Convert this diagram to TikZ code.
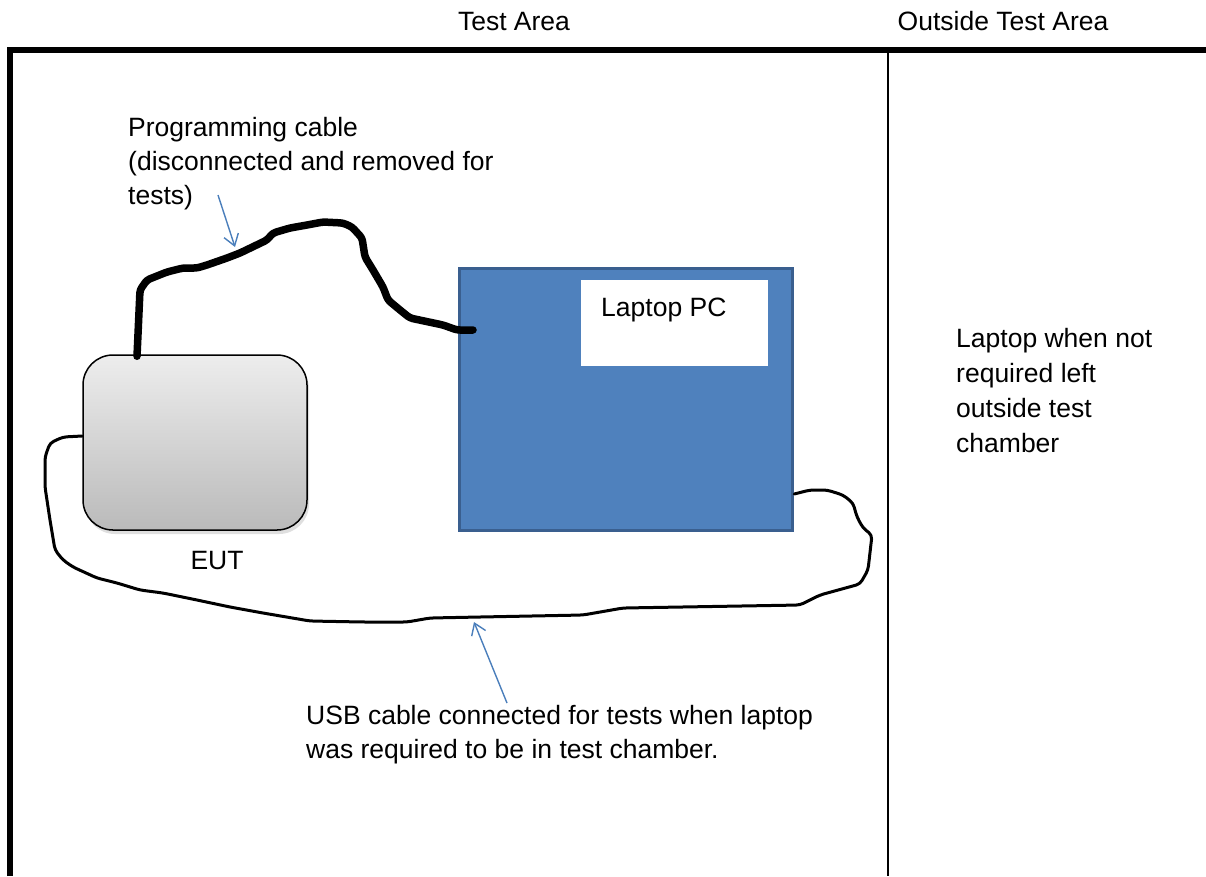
\documentclass[tikz,border=0pt]{standalone}
\usepackage{fontspec}
\setmainfont{Liberation Sans}
\usetikzlibrary{shadows,arrows.meta}
\definecolor{pcblue}{HTML}{4F81BD}
\definecolor{pcedge}{HTML}{3A5F8F}
\definecolor{arrowblue}{HTML}{4A7EBB}
\tikzset{
  lbl/.style={inner sep=0pt, font=\fontsize{26.5}{34}\selectfont},
  mlbl/.style={lbl, align=left, anchor=north west},
  eutbox/.style={draw=black, line width=1.5pt, rounded corners=30pt,
    minimum width=224pt, minimum height=175pt, top color=black!7, bottom color=black!27,
    drop shadow={opacity=0.25, shadow xshift=2pt, shadow yshift=-4pt}},
  laptop/.style={fill=pcblue, draw=pcedge, line width=3.5pt, minimum width=333pt, minimum height=262pt, inner sep=0pt},
  screen/.style={fill=white, minimum width=187pt, minimum height=86pt, inner sep=0pt},
  progcable/.style={line width=7.5pt, line join=round, line cap=round, rounded corners=3pt},
  usbcable/.style={line width=3pt, line join=round, line cap=round, rounded corners=4pt},
  callout/.style={draw=arrowblue, line width=1.4pt, -{Straight Barb[length=11pt,width=15pt]}},
  frame/.style={line width=6pt},
  divider/.style={line width=1.5pt}
}
\begin{document}
\begin{tikzpicture}[x=1pt,y=-1pt]
\useasboundingbox (0,0) rectangle (1206,876);
% frame
\coordinate (fbl) at (10,876);
\coordinate (ftl) at (10,50);
\coordinate (ftr) at (1206,50);
\coordinate (dtop) at (888,50);
\coordinate (dbot) at (888,876);
\draw[frame] (fbl) -- (ftl) -- (ftr);
\draw[divider] (dtop) -- (dbot);
% headings
\node[lbl, anchor=base] (hta) at (514,30.5) {Test Area};
\node[lbl, anchor=base] (hout) at (1003,30.5) {Outside Test Area};
% EUT
\node[eutbox] (eut) at (195,442.5) {};
\node[lbl, anchor=base] (eutl) at (217,569.5) {EUT};
% Laptop
\node[laptop] (pc) at (626,399.5) {};
\node[screen] (scr) at (674.5,323) {};
\node[lbl, anchor=base west] (pcl) at (601,316.5) {Laptop PC};
% texts
\node[mlbl] (progt) at (128,117.5) {Programming cable\\(disconnected and removed for\\tests)};
\node[mlbl, font=\fontsize{26.5}{35}\selectfont] (outt) at (956,328.5) {Laptop when not\\required left\\outside test\\chamber};
\node[mlbl] (usbt) at (306,705.5) {USB cable connected for tests when laptop\\was required to be in test chamber.};
% programming cable
\coordinate (pcstart) at (eut.north -| 137,0);
\coordinate (pcend) at (473,330);
\draw[progcable] ([yshift=-2pt]pcstart) -- (140,290) -- (147,280) -- (167,272) -- (183,268) -- (197,268)
  -- (207,265) -- (227,258) -- (240,253) -- (267,240) -- (273,233) -- (290,228) -- (307,225)
  -- (323,222) -- (343,223) -- (352,227) -- (362,238) -- (365,257) -- (373,270) -- (383,287)
  -- (388,300) -- (400,310) -- (410,318) -- (443,325) -- (457,330) -- (pcend);
% USB cable
\coordinate (ustart) at (eut.west |- 0,436);
\coordinate (uend) at (pc.east |- 0,494);
\draw[usbcable] (ustart) -- (63,437) -- (50,443) -- (45,457) -- (45,487) -- (50,520) -- (55,550)
  -- (63,560) -- (73,567) -- (97,578) -- (117,583) -- (140,590) -- (163,593) -- (197,600)
  -- (230,607) -- (263,613) -- (310,621) -- (363,622) -- (407,622) -- (430,618) -- (480,617)
  -- (583,615) -- (623,608) -- (800,605) -- (810,600) -- (820,595) -- (860,584) -- (868,570)
  -- (872,535) -- (863,528) -- (857,517) -- (853,503) -- (843,495) -- (827,490) -- (810,490)
  -- (uend);
% callout arrows
\coordinate (pa0) at (218,195);
\coordinate (pa1) at (235,247);
\coordinate (ua0) at (507,703);
\coordinate (ua1) at (474,622);
\draw[callout] (pa0) -- (pa1);
\draw[callout] (ua0) -- (ua1);
\end{tikzpicture}
\end{document}
